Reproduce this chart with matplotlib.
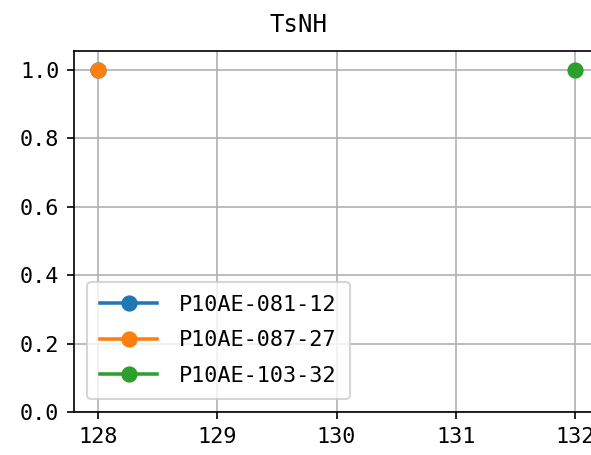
import matplotlib
matplotlib.use("Agg")
import matplotlib.pyplot as plt

plt.rcParams['font.family'] = ['DejaVu Sans Mono', 'Noto Sans CJK SC']

series_names = ["P10AE-081-12", "P10AE-087-27", "P10AE-103-32"]
series_x = [[128], [128], [132]]
series_y = [[1.0], [1.0], [1.0]]
title = "TsNH"

fig = plt.figure(figsize=(591/150, 455/150), dpi=150)
ax = fig.add_axes([74/591, 43/455, 525/591, 361/455])
for name, xs, ys in zip(series_names, series_x, series_y):
    ax.plot(xs, ys, marker='o', markersize=6.8, linewidth=1.7, label=name)
ax.set_xlim(127.8, 132.2)
ax.set_ylim(0, 1.055)
ax.set_xticks([128, 129, 130, 131, 132])
ax.set_yticks([0.0, 0.2, 0.4, 0.6, 0.8, 1.0])
ax.tick_params(labelsize=10.5)
ax.grid(True)
fig.text(298/591, 1 - 25/455, title, fontsize=11.5, ha='center', va='center')
ax.legend(loc='lower left', fontsize=10.5, handlelength=2.6, labelspacing=0.7,
          handletextpad=1.0, borderpad=0.6, borderaxespad=0.6)
fig.savefig("out.png", dpi=150)
